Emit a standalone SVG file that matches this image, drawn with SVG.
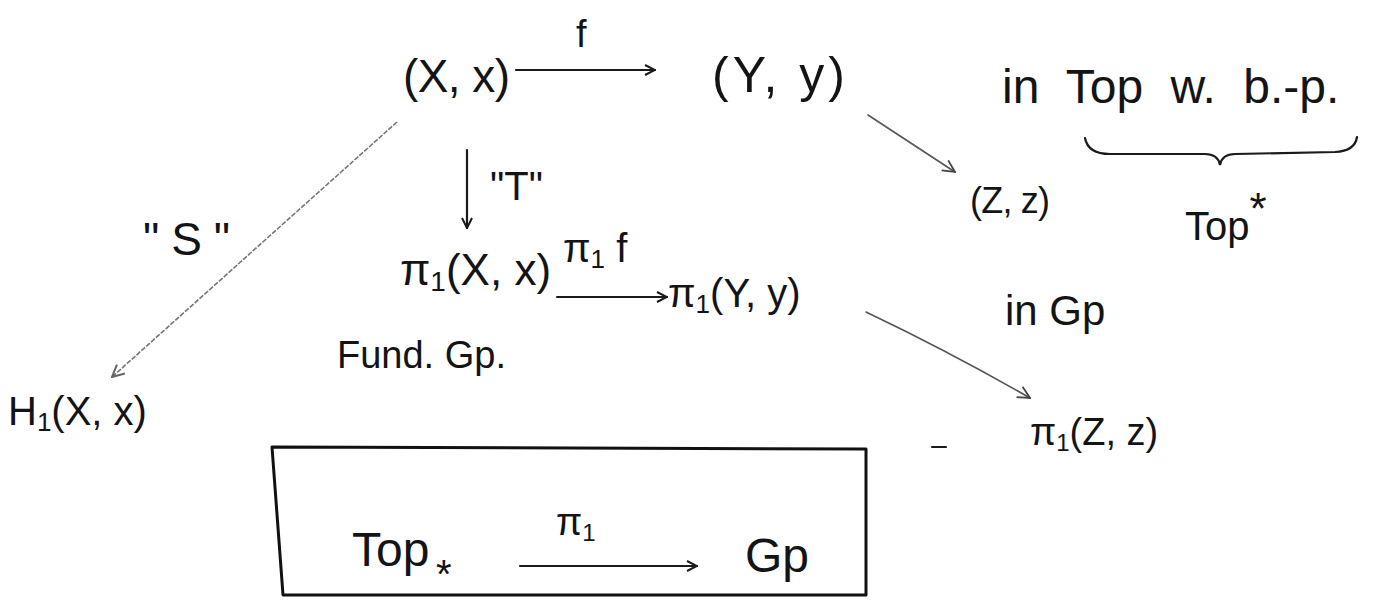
<svg xmlns="http://www.w3.org/2000/svg" width="1392" height="602" viewBox="0 0 1392 602">
<style>
  .t { font-family: "Liberation Sans", "DejaVu Sans", sans-serif; fill: #141414; }
  .ln { stroke: #1a1a1a; stroke-width: 2.2; fill: none; stroke-linecap: round; }
  .thin { stroke: #555; stroke-width: 1.6; fill: none; stroke-linecap: round; }
  .faint { stroke: #777; stroke-width: 1.6; fill: none; stroke-dasharray: 5 1.5; }
  .box { stroke: #111; stroke-width: 3; fill: none; stroke-linejoin: round; }
</style>
<defs>
  <marker id="ah" viewBox="0 0 12 12" refX="11" refY="6" markerWidth="12" markerHeight="12" markerUnits="userSpaceOnUse" orient="auto">
    <path d="M1,1 L11,6 L1,11" fill="none" stroke="#1a1a1a" stroke-width="2"/>
  </marker>
  <marker id="ahs" viewBox="0 0 14 14" refX="13" refY="7" markerWidth="14" markerHeight="14" markerUnits="userSpaceOnUse" orient="auto">
    <path d="M1,1 L13,7 L1,13" fill="none" stroke="#444" stroke-width="1.8"/>
  </marker>
  <marker id="ahf" viewBox="0 0 14 14" refX="13" refY="7" markerWidth="14" markerHeight="14" markerUnits="userSpaceOnUse" orient="auto">
    <path d="M1,1 L13,7 L1,13" fill="none" stroke="#666" stroke-width="2"/>
  </marker>
</defs>

<g id="connectors">
  <line class="ln" x1="516" y1="70" x2="655" y2="70" marker-end="url(#ah)"/>
  <line class="thin" x1="868" y1="115" x2="955" y2="172" marker-end="url(#ahs)"/>
  <line class="ln" x1="467" y1="150" x2="467" y2="228" marker-end="url(#ah)"/>
  <line class="faint" x1="397" y1="122" x2="112" y2="377" marker-end="url(#ahf)"/>
  <line class="ln" x1="557" y1="297" x2="667" y2="297" marker-end="url(#ah)"/>
  <path class="thin" d="M866,312 Q950,352 1030,398" marker-end="url(#ahs)"/>
  <line class="ln" x1="520" y1="566" x2="697" y2="566" marker-end="url(#ah)"/>
</g>

<g id="label-f"><text class="t" x="576" y="47" font-size="38">f</text></g>
<g id="label-T"><text class="t" x="490" y="200" font-size="40">"T"</text></g>
<g id="label-S"><text class="t" x="143" y="255" font-size="46" textLength="87">"S"</text></g>
<g id="label-pi1f"><text class="t" x="563" y="262" font-size="40">π<tspan font-size="26" dy="6">1</tspan><tspan dy="-6"> f</tspan></text></g>

<g id="node-Xx"><text class="t" x="403" y="92" font-size="46" textLength="107">(X, x)</text></g>
<g id="node-Yy"><text class="t" x="712" y="92" font-size="50" textLength="133">(Y, y)</text></g>
<g id="node-Zz"><text class="t" x="970" y="213" font-size="36" textLength="80">(Z, z)</text></g>
<g id="note-top"><text class="t" x="1002" y="103" font-size="48" word-spacing="14">in Top w. b.-p.</text></g>
<g id="brace"><path class="ln" stroke-width="2" d="M1085,138 Q1088,154 1110,154 L1205,154 Q1218,154 1220,165 Q1222,154 1235,154 L1335,152 Q1355,151 1357,137"/></g>
<g id="note-topstar"><text class="t" x="1185" y="240" font-size="40">Top<tspan font-size="44" dy="-16">*</tspan></text></g>

<g id="node-pi1Xx"><text class="t" x="400" y="285" font-size="44">π<tspan font-size="28" dy="6">1</tspan><tspan dy="-6">(X, x)</tspan></text></g>
<g id="node-pi1Yy"><text class="t" x="668" y="307" font-size="40">π<tspan font-size="26" dy="6">1</tspan><tspan dy="-6">(Y, y)</tspan></text></g>
<g id="note-fund"><text class="t" x="337" y="368" font-size="38">Fund. Gp.</text></g>
<g id="note-ingp"><text class="t" x="1005" y="325" font-size="42">in Gp</text></g>
<g id="node-pi1Zz"><text class="t" x="1030" y="445" font-size="38">π<tspan font-size="24" dy="6">1</tspan><tspan dy="-6">(Z, z)</tspan></text></g>
<g id="node-H1"><text class="t" x="8" y="425" font-size="40">H<tspan font-size="26" dy="6">1</tspan><tspan dy="-6">(X, x)</tspan></text></g>
<g id="mark"><line class="ln" x1="932" y1="447" x2="946" y2="447"/></g>

<g id="boxed">
  <path class="box" d="M272,447 L866,449 L866,595 L283,595 Z"/>
  <text class="t" x="352" y="566" font-size="48">Top</text>
  <text class="t" x="436" y="588" font-size="40">*</text>
  <text class="t" x="556" y="535" font-size="38">π<tspan font-size="24" dy="6">1</tspan></text>
  <text class="t" x="745" y="572" font-size="48">Gp</text>
</g>
</svg>
